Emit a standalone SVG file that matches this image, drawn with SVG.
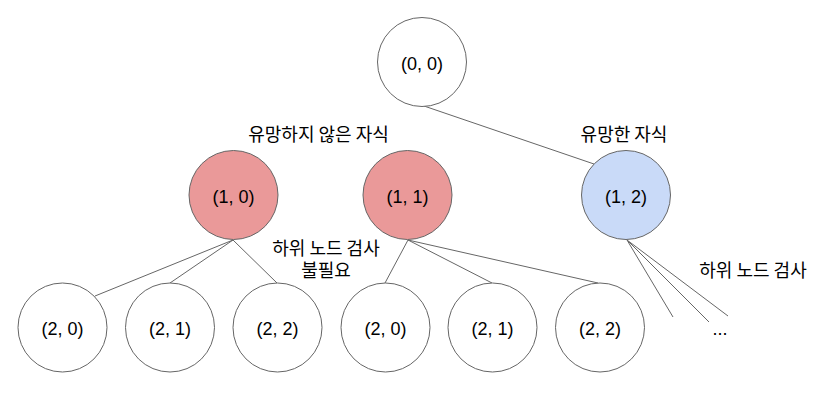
<svg xmlns="http://www.w3.org/2000/svg" width="836" height="414" viewBox="0 0 836 414">
<style>
.n{stroke:#666;stroke-width:1}
.w{fill:#fff}
.r{fill:#ea9999}
.b{fill:#c9daf8}
.t{font-family:"Liberation Sans",Arial,sans-serif;font-size:18px;fill:#000;text-anchor:middle}
.k{font-family:"Noto Sans CJK KR","Liberation Sans",sans-serif;font-size:18px;fill:#000;text-anchor:middle}
.e{stroke:#666;stroke-width:1;fill:none}
</style>
<rect width="836" height="414" fill="#fff"/>
<g id="edges">
<line class="e" x1="424" y1="106" x2="594" y2="164"/>
<line class="e" x1="233" y1="240" x2="95" y2="296"/>
<line class="e" x1="233" y1="240" x2="170" y2="283"/>
<line class="e" x1="233" y1="240" x2="277" y2="283"/>
<line class="e" x1="408" y1="240" x2="385" y2="283"/>
<line class="e" x1="408" y1="240" x2="492" y2="283"/>
<line class="e" x1="408" y1="240" x2="598" y2="283"/>
<line class="e" x1="627" y1="240" x2="673" y2="317"/>
<line class="e" x1="627" y1="240" x2="709" y2="322"/>
<line class="e" x1="627" y1="240" x2="728" y2="316"/>
</g>
<g id="n00"><circle class="n w" cx="422" cy="62" r="44.5"/><text class="t" x="422" y="70">(0, 0)</text></g>
<g id="n10"><circle class="n r" cx="233.5" cy="195" r="44.5"/><text class="t" x="233.5" y="203">(1, 0)</text></g>
<g id="n11"><circle class="n r" cx="407.5" cy="195" r="44.5"/><text class="t" x="407.5" y="203">(1, 1)</text></g>
<g id="n12"><circle class="n b" cx="626" cy="195" r="44.5"/><text class="t" x="626" y="203">(1, 2)</text></g>
<g id="n20a"><circle class="n w" cx="62.5" cy="327.5" r="44.5"/><text class="t" x="62.5" y="335">(2, 0)</text></g>
<g id="n21a"><circle class="n w" cx="170" cy="327.5" r="44.5"/><text class="t" x="170" y="335">(2, 1)</text></g>
<g id="n22a"><circle class="n w" cx="277.5" cy="327.5" r="44.5"/><text class="t" x="277.5" y="335">(2, 2)</text></g>
<g id="n20b"><circle class="n w" cx="385.5" cy="327.5" r="44.5"/><text class="t" x="385.5" y="335">(2, 0)</text></g>
<g id="n21b"><circle class="n w" cx="492.5" cy="327.5" r="44.5"/><text class="t" x="492.5" y="335">(2, 1)</text></g>
<g id="n22b"><circle class="n w" cx="600" cy="327.5" r="44.5"/><text class="t" x="600" y="335">(2, 2)</text></g>
<g id="labels">
<text class="k" x="318.5" y="141">유망하지 않은 자식</text>
<text class="k" x="624" y="141">유망한 자식</text>
<text class="k" x="326" y="255"><tspan x="326" y="255">하위 노드 검사</tspan><tspan x="326" y="277">불필요</tspan></text>
<text class="k" x="753" y="277">하위 노드 검사</text>
<text class="t" x="720" y="335">...</text>
</g>
</svg>
